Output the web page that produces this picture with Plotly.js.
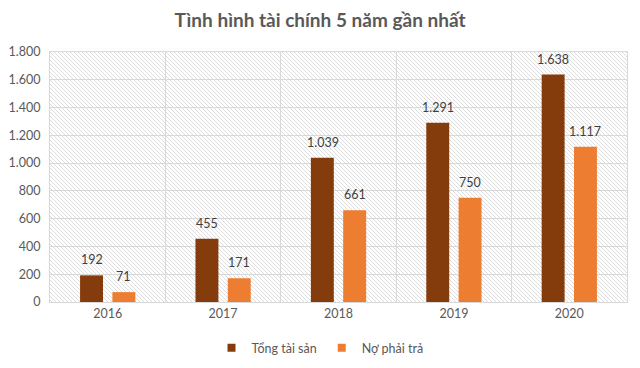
<!DOCTYPE html>
<html><head><meta charset="utf-8">
<script src="https://cdn.plot.ly/plotly-3.0.1.min.js"></script>
<style>html,body{margin:0;padding:0;background:#fff}#chart{width:640px;height:368px}</style>
</head><body><div id="chart"></div>
<script>
const years = ['2016', '2017', '2018', '2019', '2020'];
const totalAssets = [192, 455, 1039, 1291, 1638];
const liabilities = [71, 171, 661, 750, 1117];
const seriesNames = ['Tổng tài sản', 'Nợ phải trả'];
const seriesColors = ['#843C0C', '#ED7D31'];
const yTicks = [0, 200, 400, 600, 800, 1000, 1200, 1400, 1600, 1800];

const hatch = 'data:image/svg+xml;utf8,' + encodeURIComponent(
  '<svg xmlns="http://www.w3.org/2000/svg" width="577" height="250">' +
  '<defs><pattern id="p" width="4" height="4" patternUnits="userSpaceOnUse">' +
  '<path d="M-1,-1 L5,5 M-1,3 L1,5 M3,-1 L5,1" stroke="#d4d4d4" stroke-width="0.8"/></pattern></defs>' +
  '<rect width="577" height="250" fill="#fff"/><rect width="577" height="250" fill="url(#p)"/></svg>');

const font = 'Lato, "Open Sans", sans-serif';
const fmt = v => v.toLocaleString('de-DE');
const traces = [
  {type: 'bar', name: seriesNames[0], x: years, y: totalAssets, marker: {color: seriesColors[0]}, hoverinfo: 'skip', showlegend: false},
  {type: 'bar', name: seriesNames[1], x: years, y: liabilities, marker: {color: seriesColors[1]}, hoverinfo: 'skip', showlegend: false}
];
seriesNames.forEach((n, k) => traces.push({
  type: 'scatter', mode: 'markers', name: n, x: [null], y: [null],
  marker: {symbol: 'square', size: 8, color: seriesColors[k]}, hoverinfo: 'skip'
}));
const annotations = [];
[[totalAssets, -16], [liabilities, 16]].forEach(([vals, dx]) => {
  vals.forEach((v, i) => annotations.push({
    x: i, y: v, xref: 'x', yref: 'y', text: fmt(v), showarrow: false,
    xshift: dx, yshift: 6, yanchor: 'bottom', font: {size: 12.5, color: '#404040', family: font}
  }));
});
const layout = {
  width: 640, height: 368,
  margin: {l: 50, r: 13, t: 52, b: 66, autoexpand: false},
  separators: ',.',
  paper_bgcolor: '#fff', plot_bgcolor: 'rgba(0,0,0,0)',
  font: {family: font, color: '#595959', size: 12},
  title: {text: '<b>Tình hình tài chính 5 năm gần nhất</b>', x: 0.5, xanchor: 'center', y: 0.945, yanchor: 'middle',
          font: {size: 19, color: '#595959', family: font}},
  barmode: 'group', bargap: 0.44, bargroupgap: 0.29,
  xaxis: {type: 'category', tickson: 'boundaries', showgrid: true, gridcolor: '#d9d9d9', gridwidth: 1,
          showline: true, linecolor: '#d9d9d9', mirror: true, ticks: 'outside', ticklen: 7, tickcolor: 'rgba(0,0,0,0)',
          tickfont: {size: 12.5, color: '#595959'}, fixedrange: true, range: [-0.5, years.length - 0.5]},
  yaxis: {range: [0, 1800], tickvals: yTicks, tickformat: ',d', showgrid: true, gridcolor: '#d9d9d9',
          showline: true, linecolor: '#d9d9d9', mirror: true, zeroline: false,
          ticks: 'outside', ticklen: 6, tickcolor: 'rgba(0,0,0,0)',
          tickfont: {size: 12.5, color: '#595959'}, fixedrange: true},
  legend: {orientation: 'h', x: 0.5, xanchor: 'center', xref: 'container', y: 0.013, yanchor: 'bottom', yref: 'container',
           font: {size: 12.5, color: '#595959'}, itemwidth: 30, tracegroupgap: 0},
  annotations: annotations,
  images: [{source: hatch, xref: 'paper', yref: 'paper', x: 0, y: 1, sizex: 1, sizey: 1,
            xanchor: 'left', yanchor: 'top', sizing: 'stretch', layer: 'below'}],
  showlegend: true
};
Plotly.newPlot('chart', traces, layout, {displayModeBar: false, staticPlot: true});
</script></body></html>
